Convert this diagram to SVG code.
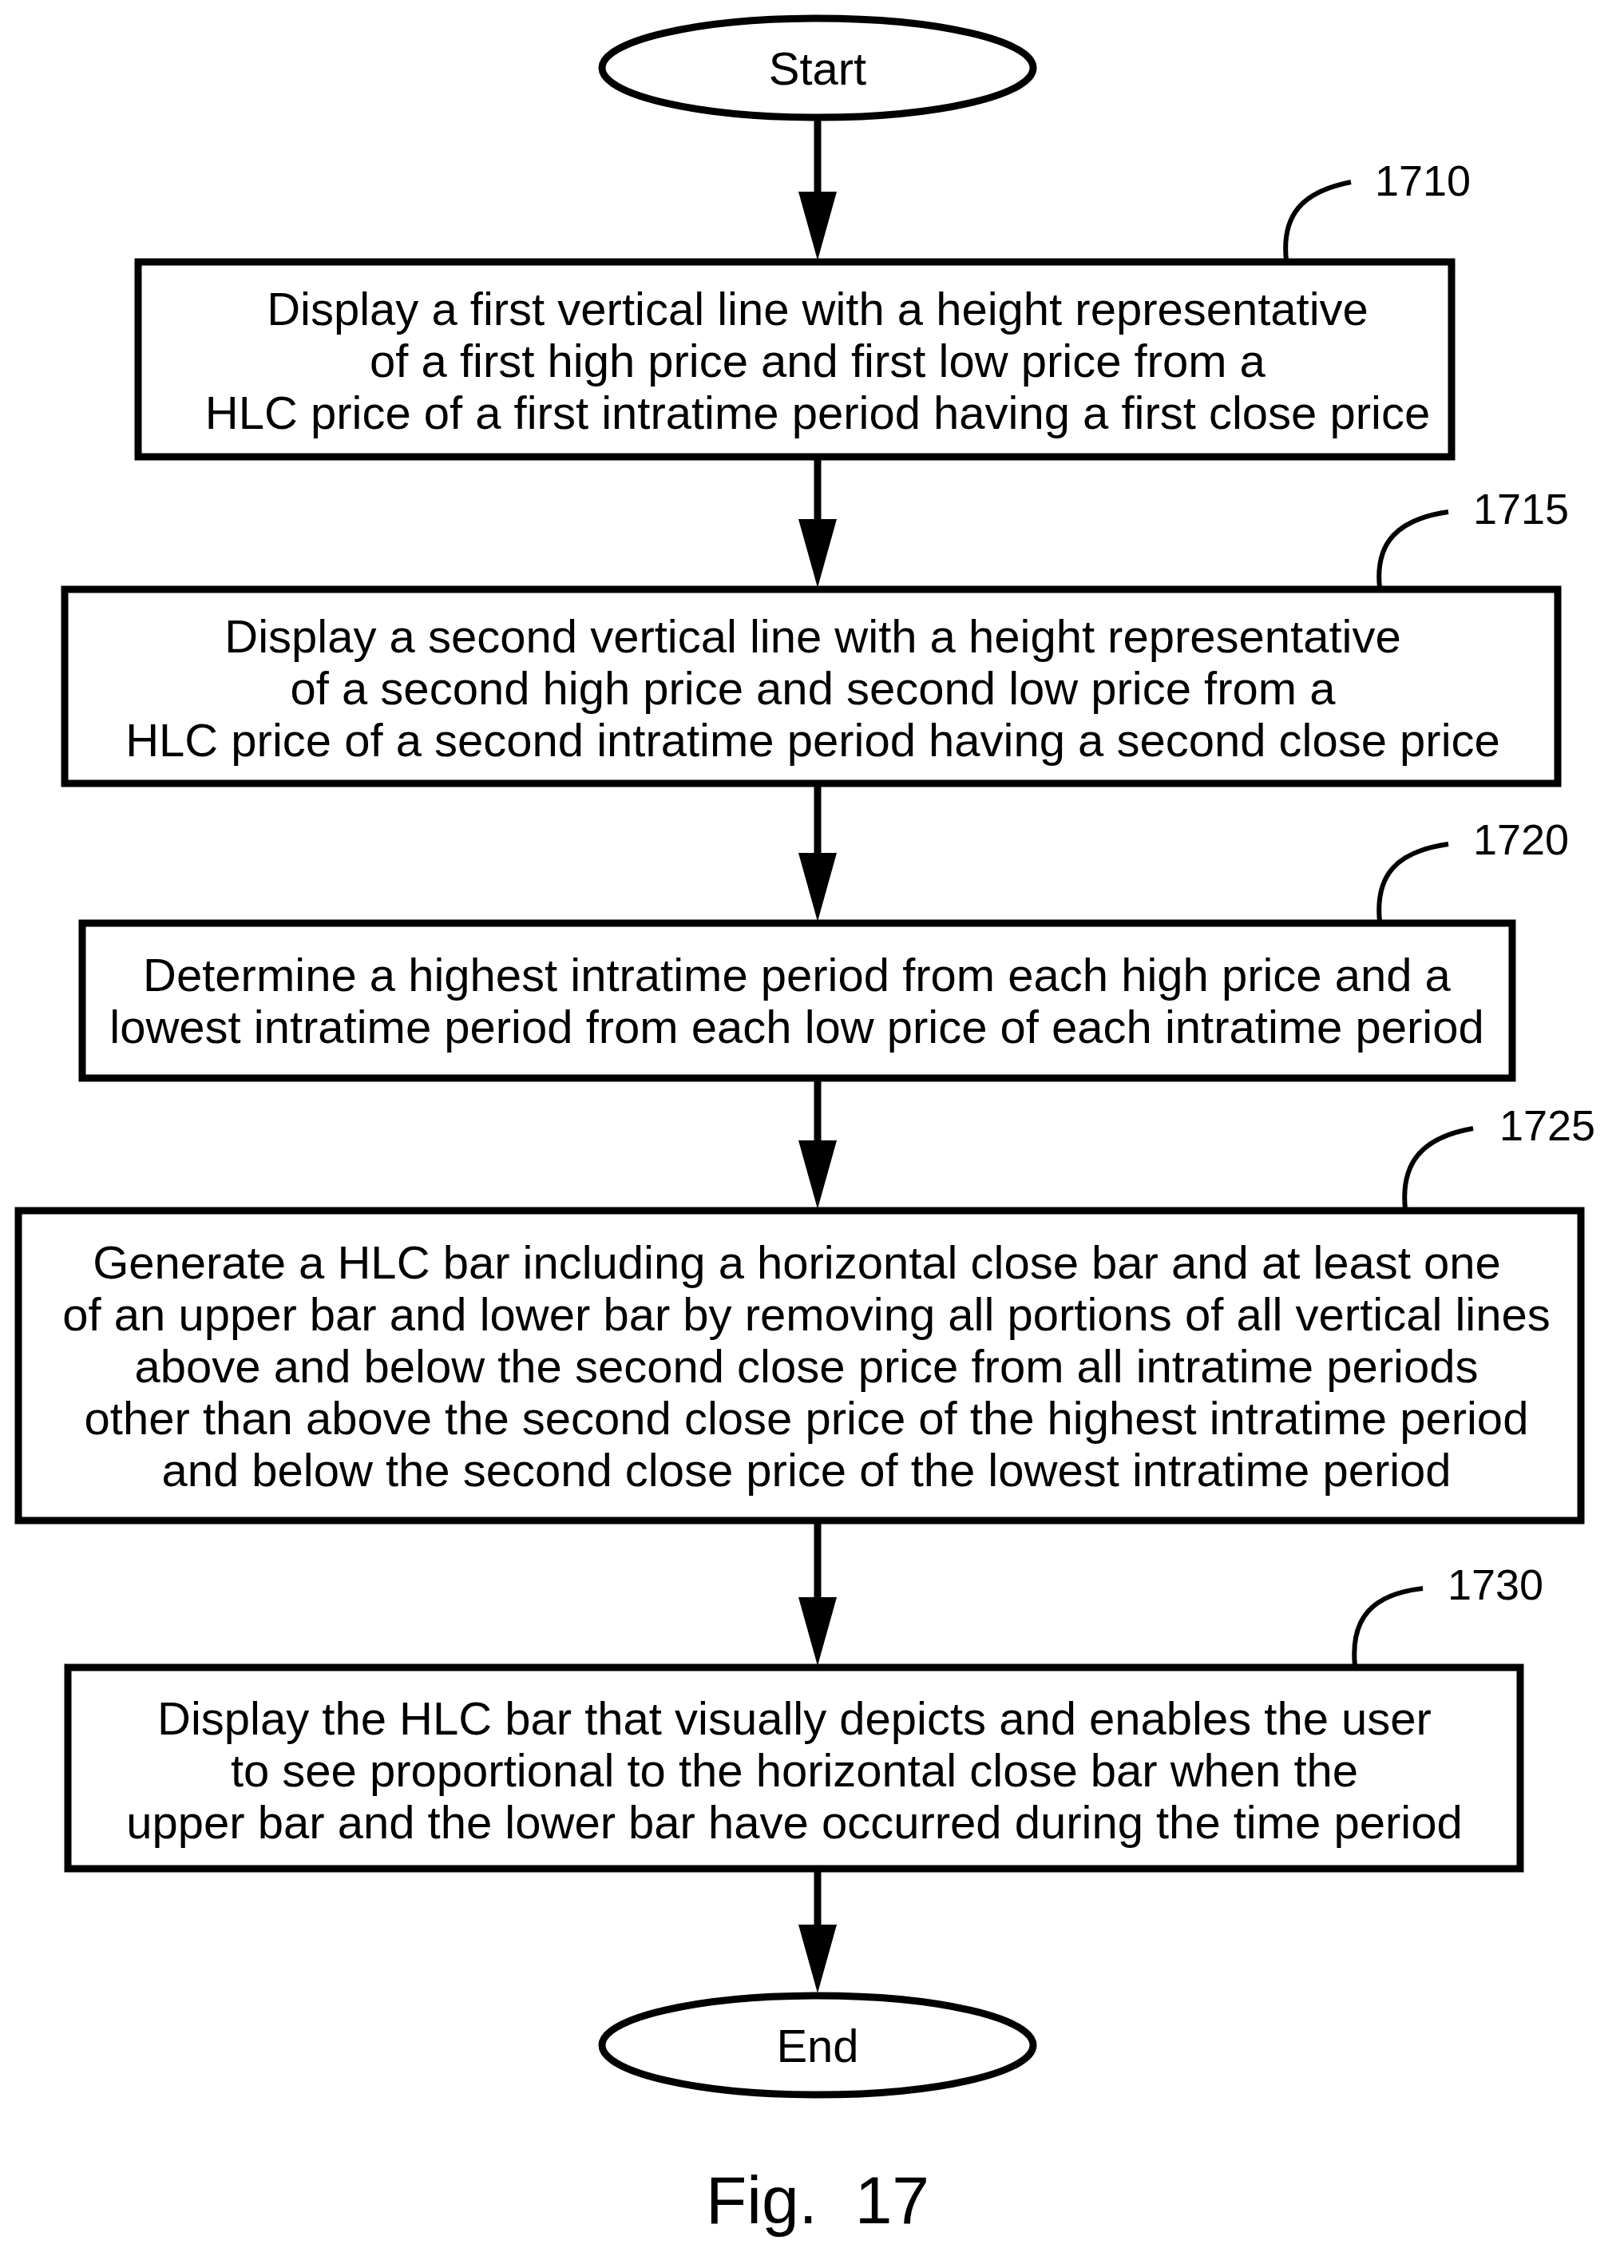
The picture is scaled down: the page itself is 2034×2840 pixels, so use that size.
<svg xmlns="http://www.w3.org/2000/svg" width="2034" height="2840" viewBox="0 0 2034 2840">
<style>
.b{fill:#fff;stroke:#000;stroke-width:9}
.t{font-family:"Liberation Sans",Arial,sans-serif;font-size:58px;text-anchor:middle;fill:#000}
.l{font-family:"Liberation Sans",Arial,sans-serif;font-size:54px;fill:#000}
.c{fill:none;stroke:#000;stroke-width:6}
.a{stroke:#000;stroke-width:9}
.h{fill:#000}
</style>
<g id="connectors">
<line class="a" x1="1024" y1="148" x2="1024" y2="250"/><polygon class="h" points="1000,240 1048,240 1024,326"/>
<line class="a" x1="1024" y1="576" x2="1024" y2="660"/><polygon class="h" points="1000,650 1048,650 1024,736"/>
<line class="a" x1="1024" y1="985" x2="1024" y2="1078"/><polygon class="h" points="1000,1068 1048,1068 1024,1154"/>
<line class="a" x1="1024" y1="1354" x2="1024" y2="1438"/><polygon class="h" points="1000,1428 1048,1428 1024,1514"/>
<line class="a" x1="1024" y1="1908" x2="1024" y2="2010"/><polygon class="h" points="1000,2000 1048,2000 1024,2086"/>
<line class="a" x1="1024" y1="2344" x2="1024" y2="2420"/><polygon class="h" points="1000,2410 1048,2410 1024,2496"/>
</g>
<g id="start"><ellipse class="b" cx="1024" cy="85" rx="270" ry="62"/><text class="t" x="1024" y="106">Start</text></g>
<g id="n1710"><rect class="b" x="173" y="328" width="1645" height="244"/>
<text class="t" x="1024" y="407">Display a first vertical line with a height representative</text>
<text class="t" x="1024" y="472">of a first high price and first low price from a</text>
<text class="t" x="1024" y="537">HLC price of a first intratime period having a first close price</text>
<path class="c" d="M1611,326 C1605,270 1630,240 1692,228"/><text class="l" x="1722" y="245">1710</text></g>
<g id="n1715"><rect class="b" x="81" y="738" width="1870" height="243"/>
<text class="t" x="1018" y="817">Display a second vertical line with a height representative</text>
<text class="t" x="1018" y="882">of a second high price and second low price from a</text>
<text class="t" x="1018" y="947">HLC price of a second intratime period having a second close price</text>
<path class="c" d="M1728,736 C1722,680 1750,650 1814,641"/><text class="l" x="1845" y="656">1715</text></g>
<g id="n1720"><rect class="b" x="103" y="1156" width="1791" height="194"/>
<text class="t" x="998" y="1241">Determine a highest intratime period from each high price and a</text>
<text class="t" x="998" y="1306">lowest intratime period from each low price of each intratime period</text>
<path class="c" d="M1728,1154 C1722,1095 1750,1066 1814,1057"/><text class="l" x="1845" y="1070">1720</text></g>
<g id="n1725"><rect class="b" x="23" y="1516" width="1957" height="388"/>
<text class="t" x="998" y="1601">Generate a HLC bar including a horizontal close bar and at least one</text>
<text class="t" x="1010" y="1666">of an upper bar and lower bar by removing all portions of all vertical lines</text>
<text class="t" x="1010" y="1731">above and below the second close price from all intratime periods</text>
<text class="t" x="1010" y="1796">other than above the second close price of the highest intratime period</text>
<text class="t" x="1010" y="1861">and below the second close price of the lowest intratime period</text>
<path class="c" d="M1760,1514 C1754,1455 1782,1424 1845,1413"/><text class="l" x="1878" y="1428">1725</text></g>
<g id="n1730"><rect class="b" x="85" y="2088" width="1819" height="252"/>
<text class="t" x="995" y="2172">Display the HLC bar that visually depicts and enables the user</text>
<text class="t" x="995" y="2237">to see proportional to the horizontal close bar when the</text>
<text class="t" x="995" y="2302">upper bar and the lower bar have occurred during the time period</text>
<path class="c" d="M1697,2086 C1691,2025 1720,1996 1782,1989"/><text class="l" x="1813" y="2003">1730</text></g>
<g id="end"><ellipse class="b" cx="1024" cy="2561" rx="270" ry="62"/><text class="t" x="1024" y="2582">End</text></g>
<text x="1024" y="2784" xml:space="preserve" style="font-family:'Liberation Sans',Arial,sans-serif;font-size:84px;text-anchor:middle">Fig.  17</text>
</svg>
